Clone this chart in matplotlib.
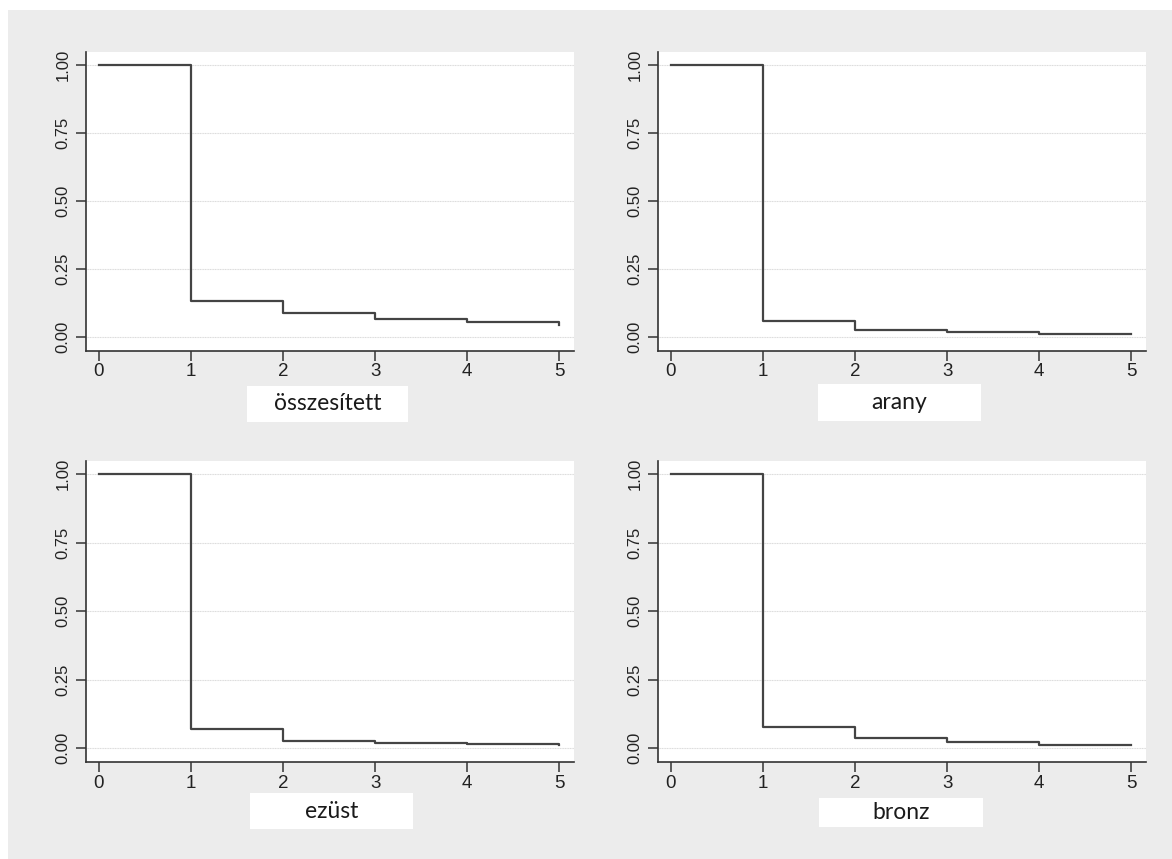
import matplotlib.pyplot as plt
from matplotlib.patches import Rectangle

W, H = 1172, 859

# idő (x) és túlélési arányok (y) – lépcsős görbék
idok = [0, 1, 2, 3, 4, 5]
osszesitett = [1.0, 0.132, 0.087, 0.067, 0.054, 0.046]
arany = [1.0, 0.059, 0.028, 0.018, 0.012, 0.012]
ezust = [1.0, 0.068, 0.026, 0.017, 0.015, 0.012]
bronz = [1.0, 0.075, 0.035, 0.021, 0.011, 0.011]

cimkek = ['összesített', 'arany', 'ezüst', 'bronz']
sorok = [osszesitett, arany, ezust, bronz]
x_ticks = [0, 1, 2, 3, 4, 5]
y_ticks = [0.0, 0.25, 0.5, 0.75, 1.0]

# panel helyek pixelben: bal, felső, jobb, alsó
panelek = [(86, 52, 574, 351), (658, 52, 1146, 351),
           (86, 461, 574, 762), (658, 461, 1146, 762)]
# cimke dobozok pixelben: bal, felső, jobb, alsó
dobozok = [(247, 386, 408, 422), (818, 384, 981, 421),
           (250, 793, 413, 829), (819, 798, 983, 827)]

bg = '#ececec'
fig = plt.figure(figsize=(W / 100, H / 100), dpi=100)
fig.patch.set_facecolor(bg)

# vékony fehér szegély bal és felül
fig.patches.append(Rectangle((0, 0), 8 / W, 1, transform=fig.transFigure,
                             facecolor='white', edgecolor='none', zorder=0))
fig.patches.append(Rectangle((0, 1 - 10 / H), 1, 10 / H, transform=fig.transFigure,
                             facecolor='white', edgecolor='none', zorder=0))

for (l, t, r, b), (bl, bt, br, bb), nev, ertekek in zip(panelek, dobozok, cimkek, sorok):
    ax = fig.add_axes([l / W, 1 - b / H, (r - l) / W, (b - t) / H])
    ax.set_facecolor('white')
    ax.step(idok, ertekek, where='post', color='#444444', linewidth=1.6, zorder=3)
    ax.set_xlim(-0.141, 5.16)
    ax.set_ylim(-0.051, 1.048)
    ax.set_xticks(x_ticks)
    ax.set_yticks(y_ticks)
    ax.set_yticklabels([f'{v:.2f}' for v in y_ticks], rotation=90, va='center')
    ax.grid(axis='y', color='#dcdcdc', linewidth=0.8, linestyle=(0, (1, 0.5)))
    ax.grid(axis='x', visible=False)
    for s in ['top', 'right']:
        ax.spines[s].set_visible(False)
    for s in ['left', 'bottom']:
        ax.spines[s].set_color('#333333')
        ax.spines[s].set_linewidth(1.2)
    ax.tick_params(axis='both', direction='out', length=7, width=1.1, color='#333333',
                   labelcolor='#222222', labelsize=12, labelfontfamily='Liberation Sans', pad=3)
    ax.tick_params(axis='x', labelsize=13.5, pad=2)
    ax.tick_params(axis='y', pad=4)

    fig.patches.append(Rectangle((bl / W, 1 - bb / H), (br - bl) / W, (bb - bt) / H,
                                 transform=fig.transFigure, facecolor='white',
                                 edgecolor='none', zorder=1))
    fig.text((bl + br) / 2 / W, 1 - (bt + bb) / 2 / H, nev, ha='center', va='center',
             fontsize=16.5, family='Lato', color='#1a1a1a', zorder=2)

fig.savefig('out.png', dpi=100, facecolor=fig.get_facecolor())
